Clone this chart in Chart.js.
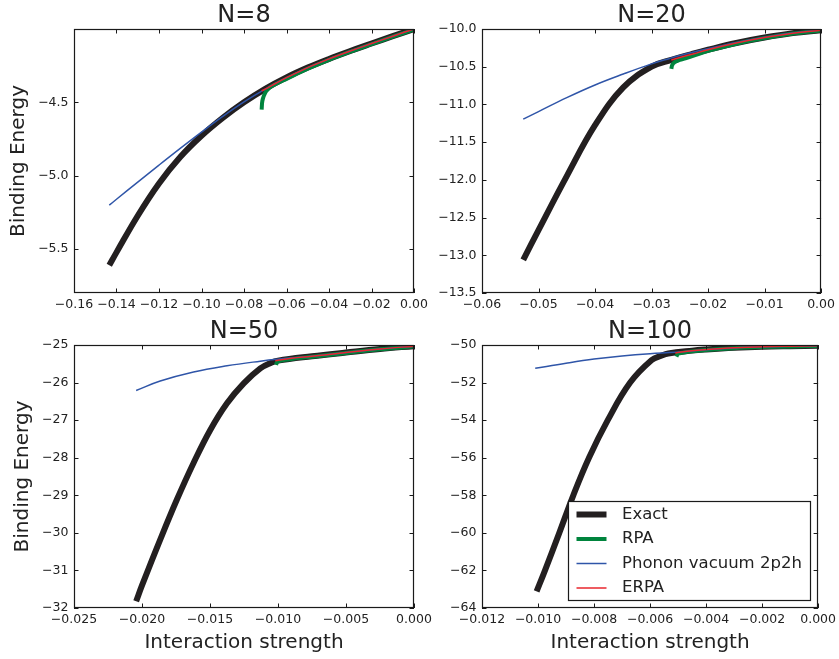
<!DOCTYPE html>
<html>
<head>
<meta charset="utf-8">
<title>Binding Energy vs Interaction strength</title>
<script src="https://cdn.jsdelivr.net/npm/chart.js@4.4.1/dist/chart.umd.min.js"></script>
<style>
  html, body { margin: 0; padding: 0; background: #fff; overflow: hidden; }
  body { width: 839px; height: 659px; position: relative; }
  canvas { position: absolute; }
</style>
</head>
<body>
<canvas id="n8"></canvas>
<canvas id="n20"></canvas>
<canvas id="n50"></canvas>
<canvas id="n100"></canvas>
<script>
// Series names (legend order)
const seriesNames = ['Exact', 'RPA', 'Phonon vacuum 2p2h', 'ERPA'];

// N=8
const n8ExactX = [-0.1434, -0.14, -0.13, -0.12, -0.11, -0.10, -0.09, -0.08, -0.07, -0.06, -0.05, -0.04, -0.03, -0.02, -0.01, 0];
const n8ExactY = [-5.611, -5.523, -5.273, -5.053, -4.873, -4.728, -4.606, -4.50, -4.408, -4.330, -4.263, -4.204, -4.150, -4.099, -4.049, -4.0];
const n8RpaX = [-0.0717, -0.0715, -0.0710, -0.0702, -0.069, -0.0675, -0.065, -0.06, -0.05, -0.04, -0.03, -0.02, -0.01, 0];
const n8RpaY = [-4.55, -4.505, -4.47, -4.44, -4.415, -4.395, -4.375, -4.34, -4.27, -4.21, -4.155, -4.103, -4.052, -4.003];
const n8PhononX = [-0.1434, -0.14, -0.13, -0.12, -0.11, -0.10, -0.09, -0.08, -0.07, -0.06, -0.05, -0.04, -0.03, -0.02, -0.01, 0];
const n8PhononY = [-5.201, -5.161, -5.044, -4.928, -4.814, -4.703, -4.596, -4.497, -4.41, -4.332, -4.263, -4.204, -4.150, -4.099, -4.049, -4.0];
const n8ErpaX = [-0.0717, -0.07, -0.065, -0.06, -0.05, -0.04, -0.03, -0.02, -0.01, 0];
const n8ErpaY = [-4.422, -4.41, -4.37, -4.332, -4.263, -4.204, -4.150, -4.099, -4.049, -4.0];
const n8XTicks = [-0.16, -0.14, -0.12, -0.10, -0.08, -0.06, -0.04, -0.02, 0];
const n8YTicks = [-4.5, -5.0, -5.5];

// N=20
const n20ExactX = [-0.0527, -0.05, -0.045, -0.04, -0.035, -0.03, -0.0265, -0.023, -0.02, -0.015, -0.01, -0.005, 0];
const n20ExactY = [-13.06, -12.665, -11.95, -11.275, -10.775, -10.5, -10.41, -10.335, -10.275, -10.185, -10.113, -10.055, -10.015];
const n20RpaX = [-0.0265, -0.0264, -0.0262, -0.0259, -0.0255, -0.025, -0.024, -0.022, -0.02, -0.015, -0.01, -0.005, 0];
const n20RpaY = [-10.53, -10.49, -10.46, -10.44, -10.425, -10.41, -10.39, -10.34, -10.29, -10.195, -10.12, -10.06, -10.02];
const n20PhononX = [-0.0527, -0.05, -0.045, -0.04, -0.035, -0.03, -0.0268, -0.025, -0.0225, -0.02, -0.015, -0.01, -0.005, 0];
const n20PhononY = [-11.195, -11.095, -10.91, -10.742, -10.597, -10.462, -10.39, -10.352, -10.305, -10.262, -10.178, -10.109, -10.053, -10.014];
const n20ErpaX = [-0.0265, -0.025, -0.0225, -0.02, -0.015, -0.01, -0.005, 0];
const n20ErpaY = [-10.41, -10.378, -10.327, -10.275, -10.185, -10.113, -10.055, -10.015];
const n20XTicks = [-0.06, -0.05, -0.04, -0.03, -0.02, -0.01, 0];
const n20YTicks = [-10.0, -10.5, -11.0, -11.5, -12.0, -12.5, -13.0, -13.5];

// N=50
const n50ExactX = [-0.02043, -0.02, -0.01866, -0.01744, -0.01621, -0.01498, -0.01375, -0.01252, -0.0113, -0.0105, -0.01, -0.0075, -0.005, -0.0025, 0];
const n50ExactY = [-31.82, -31.4, -30.18, -29.12, -28.14, -27.26, -26.55, -26.02, -25.62, -25.47, -25.415, -25.3, -25.2, -25.105, -25.03];
const n50RpaX = [-0.01014, -0.0101, -0.01, -0.0098, -0.0095, -0.009, -0.0075, -0.005, -0.0025, 0];
const n50RpaY = [-25.53, -25.48, -25.44, -25.415, -25.395, -25.37, -25.31, -25.21, -25.113, -25.04];
const n50PhononX = [-0.02043, -0.01866, -0.01621, -0.01375, -0.0113, -0.0101, -0.0075, -0.005, -0.0025, 0];
const n50PhononY = [-26.21, -25.96, -25.72, -25.555, -25.43, -25.38, -25.298, -25.2, -25.105, -25.03];
const n50ErpaX = [-0.0102, -0.009, -0.0075, -0.005, -0.0025, 0];
const n50ErpaY = [-25.42, -25.355, -25.3, -25.2, -25.105, -25.03];
const n50XTicks = [-0.025, -0.020, -0.015, -0.010, -0.005, 0];
const n50YTicks = [-25, -26, -27, -28, -29, -30, -31, -32];

// N=100
const n100ExactX = [-0.01005, -0.00975, -0.00924, -0.00874, -0.00818, -0.00751, -0.00671, -0.00594, -0.0056, -0.00535, -0.0045, -0.004, -0.003, -0.002, -0.001, 0];
const n100ExactY = [-63.12, -62, -60, -58, -56, -54, -52, -50.8, -50.57, -50.45, -50.3, -50.24, -50.15, -50.09, -50.06, -50.04];
const n100RpaX = [-0.00506, -0.00502, -0.00495, -0.0048, -0.0045, -0.004, -0.003, -0.002, -0.001, 0];
const n100RpaY = [-50.62, -50.5, -50.44, -50.4, -50.34, -50.27, -50.17, -50.11, -50.075, -50.05];
const n100PhononX = [-0.0101, -0.009, -0.008, -0.007, -0.006, -0.0051, -0.004, -0.003, -0.002, -0.001, 0];
const n100PhononY = [-51.24, -50.97, -50.75, -50.58, -50.46, -50.39, -50.25, -50.155, -50.095, -50.06, -50.04];
const n100ErpaX = [-0.0051, -0.0045, -0.004, -0.003, -0.002, -0.001, 0];
const n100ErpaY = [-50.42, -50.3, -50.24, -50.15, -50.09, -50.06, -50.04];
const n100XTicks = [-0.012, -0.010, -0.008, -0.006, -0.004, -0.002, 0];
const n100YTicks = [-50, -52, -54, -56, -58, -60, -62, -64];

const FONT = '"DejaVu Sans", "Liberation Sans", sans-serif';
const TEXT = '#222';

// line look per series: colour, width, draw order (higher = further back)
const looks = [
    { color: '#231f20', width: 6, order: 4, mono: false },
    { color: '#00843d', width: 4, order: 3, mono: true },
    { color: '#2f55a8', width: 1.5, order: 2, mono: false },
    { color: '#e8262d', width: 1.5, order: 1, mono: false }
];

function pts(xs, ys) {
    return xs.map(function(x, i) { return { x: x, y: ys[i] }; });
}

function fmt(v, digits) {
    const s = Math.abs(v).toFixed(digits);
    return (v < -1e-12 ? '\u2212' : '') + s;
}

// frame, inward ticks on all four sides, and the panel title
const panelFrame = {
    id: 'panelFrame',
    afterDraw(chart, args, opts) {
        const ctx = chart.ctx;
        const a = chart.chartArea;
        const xs = chart.scales.x, ys = chart.scales.y;
        ctx.save();
        ctx.strokeStyle = '#1a1a1a';
        ctx.lineWidth = 1;
        ctx.beginPath();
        xs.ticks.forEach(function(t) {
            const px = Math.round(xs.getPixelForValue(t.value)) + 0.5;
            ctx.moveTo(px, a.bottom); ctx.lineTo(px, a.bottom - 4.5);
            ctx.moveTo(px, a.top); ctx.lineTo(px, a.top + 4.5);
        });
        ys.ticks.forEach(function(t) {
            const py = Math.round(ys.getPixelForValue(t.value)) + 0.5;
            ctx.moveTo(a.left, py); ctx.lineTo(a.left + 4.5, py);
            ctx.moveTo(a.right, py); ctx.lineTo(a.right - 4.5, py);
        });
        ctx.stroke();
        ctx.lineWidth = 1.2;
        ctx.strokeRect(Math.round(a.left) + 0.5, Math.round(a.top) + 0.5,
            Math.round(a.right - a.left) - 1, Math.round(a.bottom - a.top) - 1);

        ctx.fillStyle = TEXT;
        ctx.font = '24px ' + FONT;
        ctx.textAlign = 'center';
        ctx.textBaseline = 'alphabetic';
        ctx.fillText(opts.text, (a.left + a.right) / 2, a.top - 7.5);
        ctx.restore();
    }
};

// matplotlib-like legend box in the lower right corner
const cornerLegend = {
    id: 'cornerLegend',
    afterDraw(chart, args, opts) {
        if (!opts.show) return;
        const ctx = chart.ctx;
        const a = chart.chartArea;
        const w = 242, h = 99;
        const left = Math.round(a.right - 8 - w), top = Math.round(a.bottom - 8 - h);
        ctx.save();
        ctx.fillStyle = '#fff';
        ctx.fillRect(left, top, w, h);
        ctx.strokeStyle = '#1a1a1a';
        ctx.lineWidth = 1.2;
        ctx.strokeRect(left + 0.5, top + 0.5, w, h);
        ctx.font = '16.5px ' + FONT;
        ctx.textAlign = 'left';
        ctx.textBaseline = 'middle';
        chart.data.datasets.forEach(function(ds, i) {
            const rowY = top + 13.5 + i * 24.5;
            ctx.strokeStyle = ds.borderColor;
            ctx.lineWidth = ds.borderWidth;
            ctx.beginPath();
            ctx.moveTo(left + 8.5, rowY);
            ctx.lineTo(left + 38.5, rowY);
            ctx.stroke();
            ctx.fillStyle = TEXT;
            ctx.fillText(ds.label, left + 54, rowY);
        });
        ctx.restore();
    }
};

function makePanel(cfg) {
    const canvas = document.getElementById(cfg.id);
    const width = cfg.yAxisW + cfg.plotW + cfg.padR;
    const height = 29 + cfg.plotH + cfg.xAxisH;
    canvas.width = width;
    canvas.height = height;
    canvas.style.left = cfg.left + 'px';
    canvas.style.top = cfg.top + 'px';

    const datasets = cfg.series.map(function(s, i) {
        const ds = {
            label: seriesNames[i],
            data: pts(s[0], s[1]),
            borderColor: looks[i].color,
            borderWidth: looks[i].width,
            order: looks[i].order,
            pointRadius: 0,
            fill: false,
            clip: 0,
            borderCapStyle: 'butt'
        };
        if (looks[i].mono) {
            ds.cubicInterpolationMode = 'monotone';
        } else {
            ds.tension = 0.4;
        }
        return ds;
    });

    return new Chart(canvas.getContext('2d'), {
        type: 'line',
        data: { datasets: datasets },
        plugins: [panelFrame, cornerLegend],
        options: {
            responsive: false,
            animation: false,
            devicePixelRatio: 1,
            layout: { padding: { top: 29, right: cfg.padR, left: 0, bottom: 0 } },
            plugins: {
                legend: { display: false },
                tooltip: { enabled: false },
                panelFrame: { text: cfg.title },
                cornerLegend: { show: !!cfg.legend }
            },
            scales: {
                x: {
                    type: 'linear',
                    min: cfg.xMin, max: cfg.xMax,
                    grid: { display: false, drawTicks: false },
                    border: { display: false },
                    afterBuildTicks: function(ax) { ax.ticks = cfg.xTicks.map(function(v) { return { value: v }; }); },
                    afterFit: function(ax) { ax.height = cfg.xAxisH; },
                    ticks: {
                        autoSkip: false, maxRotation: 0, minRotation: 0, padding: 4, color: TEXT,
                        font: { family: FONT, size: 12.5 },
                        callback: function(v) { return fmt(v, cfg.xDigits); }
                    },
                    title: {
                        display: !!cfg.xTitle, text: 'Interaction strength', color: TEXT,
                        font: { family: FONT, size: 20 }, padding: { top: 0, bottom: 4.6 }
                    }
                },
                y: {
                    type: 'linear',
                    min: cfg.yMin, max: cfg.yMax,
                    grid: { display: false, drawTicks: false },
                    border: { display: false },
                    afterBuildTicks: function(ax) { ax.ticks = cfg.yTicks.map(function(v) { return { value: v }; }); },
                    afterFit: function(ax) { ax.width = cfg.yAxisW; },
                    ticks: {
                        autoSkip: false, padding: 5.5, color: TEXT,
                        font: { family: FONT, size: 12.5 },
                        callback: function(v) { return fmt(v, cfg.yDigits); }
                    },
                    title: {
                        display: !!cfg.yTitle, text: 'Binding Energy', color: TEXT,
                        font: { family: FONT, size: 20 }, padding: { top: cfg.yTitlePad || 0, bottom: 0 }
                    }
                }
            }
        }
    });
}

document.addEventListener('DOMContentLoaded', function() {
    makePanel({
        id: 'n8', title: 'N=8', left: 0, top: 0, yAxisW: 74, plotW: 340, plotH: 264, padR: 25, xAxisH: 22,
        xMin: -0.16, xMax: 0, yMin: -5.8, yMax: -4.0, xTicks: n8XTicks, yTicks: n8YTicks, xDigits: 2, yDigits: 1,
        yTitle: true, yTitlePad: 7,
        series: [[n8ExactX, n8ExactY], [n8RpaX, n8RpaY], [n8PhononX, n8PhononY], [n8ErpaX, n8ErpaY]]
    });
    makePanel({
        id: 'n20', title: 'N=20', left: 422, top: 0, yAxisW: 60, plotW: 340, plotH: 264, padR: 17, xAxisH: 22,
        xMin: -0.06, xMax: 0, yMin: -13.5, yMax: -10.0, xTicks: n20XTicks, yTicks: n20YTicks, xDigits: 2, yDigits: 1,
        series: [[n20ExactX, n20ExactY], [n20RpaX, n20RpaY], [n20PhononX, n20PhononY], [n20ErpaX, n20ErpaY]]
    });
    makePanel({
        id: 'n50', title: 'N=50', left: 0, top: 316, yAxisW: 74, plotW: 340, plotH: 263, padR: 25, xAxisH: 51,
        xMin: -0.025, xMax: 0, yMin: -32, yMax: -25, xTicks: n50XTicks, yTicks: n50YTicks, xDigits: 3, yDigits: 0,
        yTitle: true, yTitlePad: 11, xTitle: true,
        series: [[n50ExactX, n50ExactY], [n50RpaX, n50RpaY], [n50PhononX, n50PhononY], [n50ErpaX, n50ErpaY]]
    });
    makePanel({
        id: 'n100', title: 'N=100', left: 422, top: 316, yAxisW: 60, plotW: 340, plotH: 263, padR: 18, xAxisH: 51,
        xMin: -0.012, xMax: 0, yMin: -64, yMax: -50, xTicks: n100XTicks, yTicks: n100YTicks, xDigits: 3, yDigits: 0,
        xTitle: true, legend: true,
        series: [[n100ExactX, n100ExactY], [n100RpaX, n100RpaY], [n100PhononX, n100PhononY], [n100ErpaX, n100ErpaY]]
    });
});
</script>
</body>
</html>
